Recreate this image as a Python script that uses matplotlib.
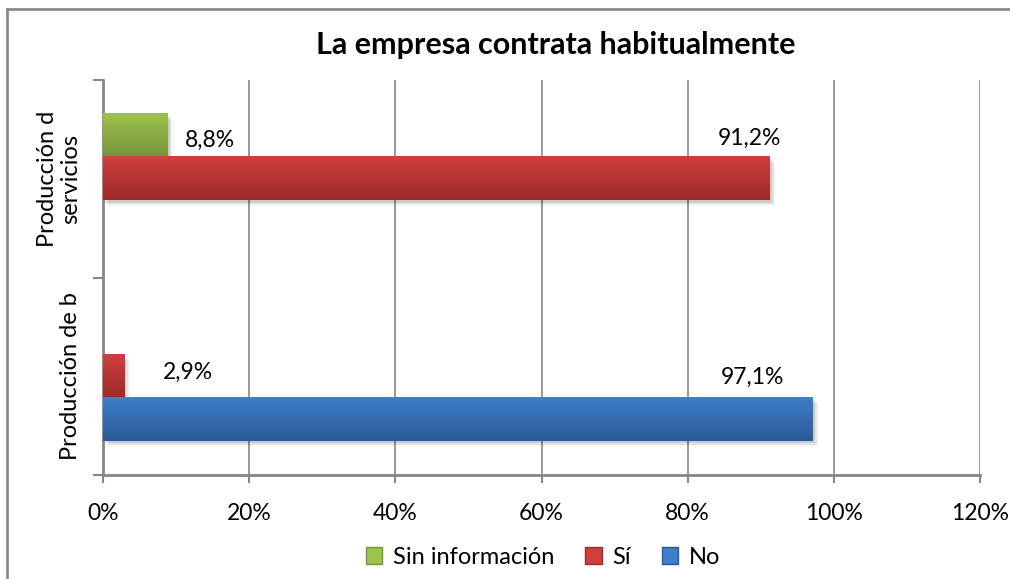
import numpy as np
import matplotlib
matplotlib.use("Agg")
import matplotlib.pyplot as plt
from matplotlib.colors import LinearSegmentedColormap
from matplotlib.patches import Patch, Rectangle
from matplotlib.lines import Line2D

plt.rcParams['font.family'] = ['Lato', 'DejaVu Sans']

categorias = ['Producción de b', 'Producción d\nservicios']
series = ['Sin información', 'Sí', 'No']
sin_info = [np.nan, 8.8]
si = [2.9, 91.2]
no = [97.1, np.nan]
x_ticks = [0, 20, 40, 60, 80, 100, 120]

# colores arriba / abajo del degradado de cada serie
colores = {
    'Sin información': ('#9dc34f', '#76943a'),
    'Sí': ('#cf3f3e', '#9c2a2a'),
    'No': ('#3e7ecb', '#2c5a96'),
}

fig = plt.figure(figsize=(10.1, 5.79), dpi=100)
ax = fig.add_axes([103/1010, 1-475/579, 877/1010, 395/579])

alto = 0.218
offsets = {'Sin información': alto, 'Sí': 0.0, 'No': -alto}
valores = {'Sin información': sin_info, 'Sí': si, 'No': no}

for s in series:
    cmap = LinearSegmentedColormap.from_list(s, [colores[s][1], colores[s][0]])
    for i, v in enumerate(valores[s]):
        if np.isnan(v):
            continue
        y0 = i + offsets[s] - alto/2
        # sombra suave
        for k, a in enumerate([0.10, 0.07, 0.04]):
            ax.add_patch(Rectangle((0.3 + 0.25*k, y0 - 0.012 - 0.008*k), v, alto,
                                   facecolor='black', alpha=a, lw=0, zorder=2))
        grad = np.linspace(0, 1, 64).reshape(-1, 1)
        ax.imshow(grad, cmap=cmap, aspect='auto', origin='lower',
                  extent=[0, v, y0, y0 + alto], zorder=3)

# etiquetas de valor
etiquetas = [
    (sin_info[1], 14.6, 1.196),
    (si[1], 88.5, 1.205),
    (si[0], 11.6, 0.022),
    (no[0], 88.8, -0.005),
]
for v, xt, yt in etiquetas:
    ax.text(xt, yt, f"{v:.1f}".replace('.', ',') + '%', ha='center', va='center',
            fontsize=16.5, color='black', zorder=5)

ax.set_xlim(0, 120)
ax.set_ylim(-0.5, 1.5)
ax.set_xticks(x_ticks)
ax.set_xticklabels([f"{t}%" for t in x_ticks], fontsize=16.5)
ax.set_yticks([0, 1])
ax.set_yticklabels(categorias, rotation=90, va='center', ha='right',
                   multialignment='center', fontsize=17, linespacing=1.1)
ax.set_yticks([-0.5, 0.5, 1.5], minor=True)
ax.tick_params(axis='y', which='major', length=0, pad=16)
ax.tick_params(axis='y', which='minor', length=7, width=1.5, color='#868686')
ax.tick_params(axis='x', length=6, width=1.5, color='#868686', pad=14)
ax.grid(axis='x', color='#868686', lw=1.2, zorder=1)
for lado in ['top', 'right']:
    ax.spines[lado].set_visible(False)
for lado in ['left', 'bottom']:
    ax.spines[lado].set_color('#868686')
    ax.spines[lado].set_linewidth(2)
ax.set_axisbelow(True)

fig.text(556/1010, 1-45/579, 'La empresa contrata habitualmente', ha='center',
         va='center', fontsize=22, fontweight='bold')

handles = [Patch(facecolor=colores[s][0], edgecolor=colores[s][1], label=s) for s in series]
fig.legend(handles=handles, loc='center', bbox_to_anchor=(543/1010, 1-557/579),
           ncol=3, frameon=False, fontsize=17, handlelength=0.7, handleheight=0.7,
           handletextpad=0.45, columnspacing=1.3)

# marco del gráfico
fig.add_artist(Line2D([7/1010, 1], [1-9/579, 1-9/579], color='#8c8c8c', lw=2))
fig.add_artist(Line2D([7/1010, 7/1010], [0, 1-9/579], color='#8c8c8c', lw=2))

fig.savefig('out.png', dpi=100)
